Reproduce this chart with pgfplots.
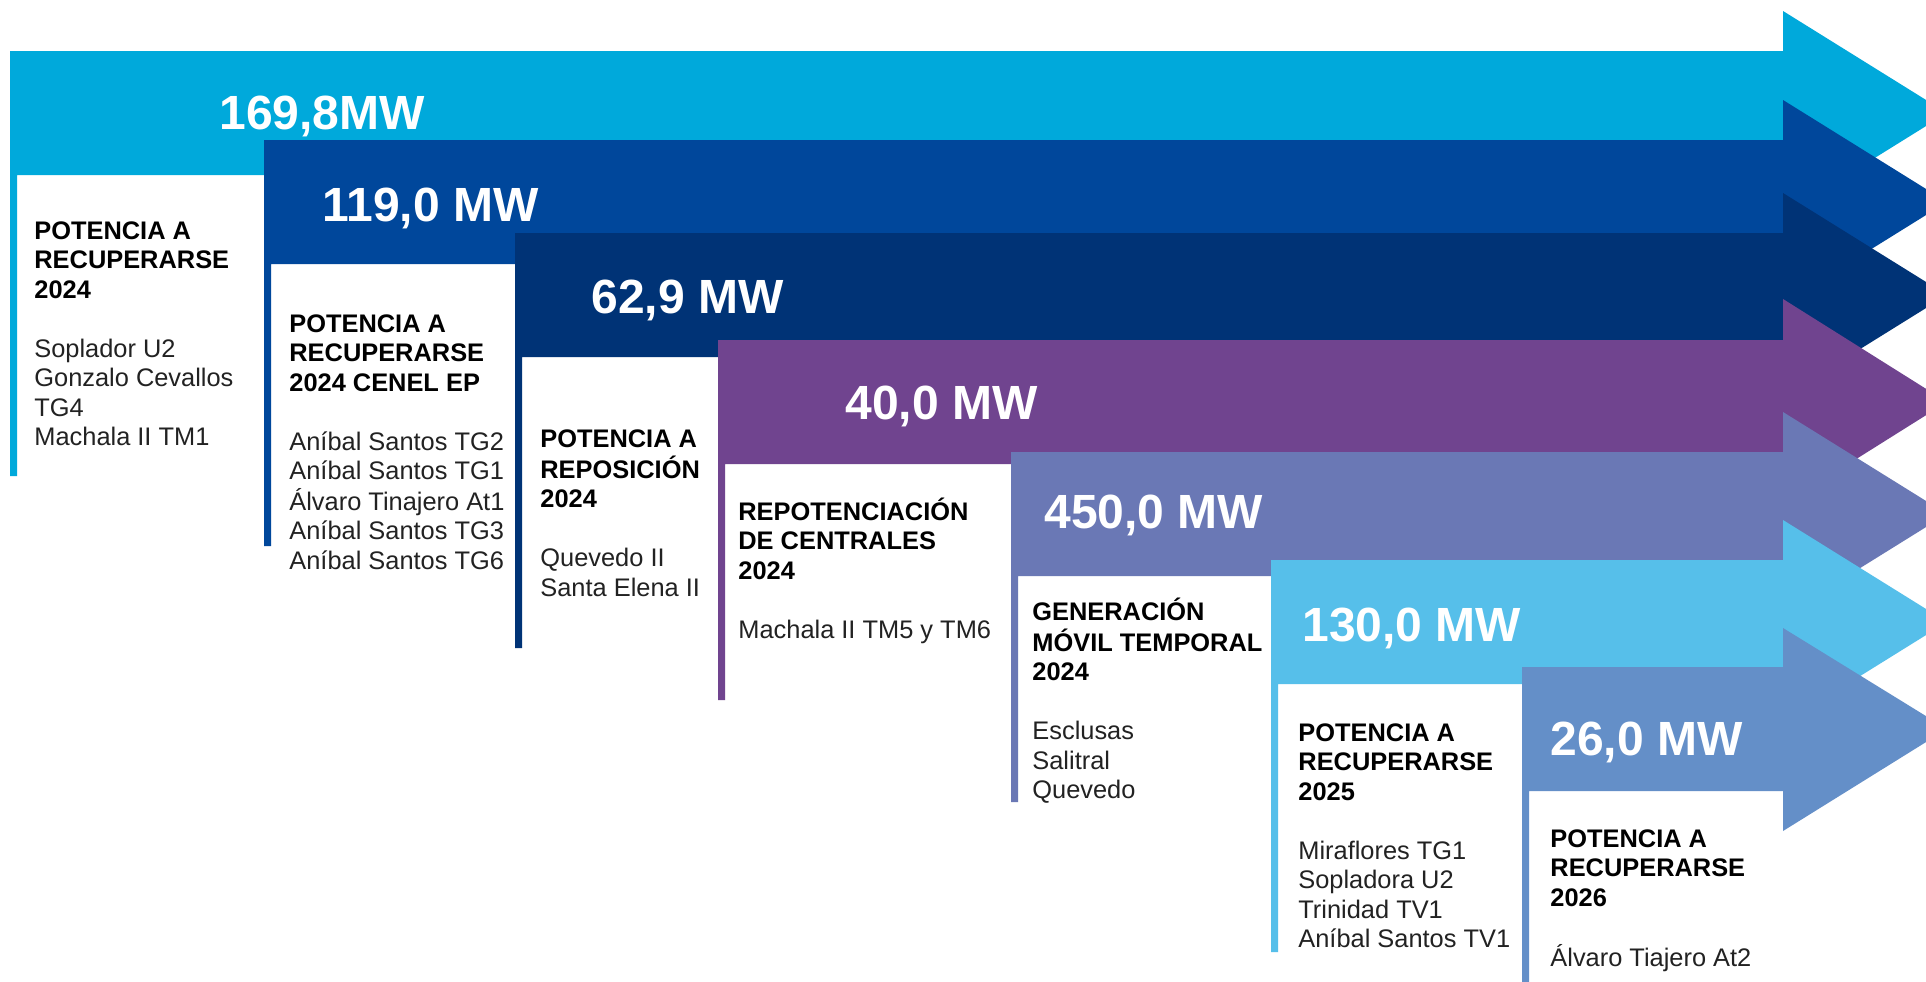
\documentclass[border=0pt]{standalone}
\usepackage{pgfplots}
\pgfplotsset{compat=1.18}
\usepackage{fontspec}
\setmainfont{Liberation Sans}
\definecolor{cA}{HTML}{00A9DB}
\definecolor{cB}{HTML}{00479B}
\definecolor{cC}{HTML}{003376}
\definecolor{cD}{HTML}{70448F}
\definecolor{cE}{HTML}{6A78B5}
\definecolor{cF}{HTML}{56BFEA}
\definecolor{cG}{HTML}{648FC8}
\definecolor{bodygray}{HTML}{222222}
\newcommand{\bl}[1]{\textcolor{bodygray}{#1}}
\tikzset{
  big/.style={anchor=base west,inner sep=0pt,text=white,font=\fontsize{24}{28}\selectfont\bfseries},
  blk/.style={anchor=base west,inner sep=0pt,text=black,font=\fontsize{12.7}{14.75}\selectfont}}
\begin{document}
\begin{tikzpicture}
\begin{axis}[width=963pt,height=490.5pt,scale only axis,
  xmin=0,xmax=1926,ymin=0,ymax=981,y dir=reverse,hide axis,clip=true]
\addplot[fill=white,draw=none] coordinates {(0,0)(1926,0)(1926,981)(0,981)} --cycle;
% arrows: band + head + left strip
\addplot[fill=cA,draw=none] coordinates {(10,51)(1783,51)(1783,11)(1947,113)(1783,215)(1783,175)(17,175)(17,476)(10,476)} --cycle;
\addplot[fill=cB,draw=none] coordinates {(264,140)(1783,140)(1783,100)(1947,202)(1783,304)(1783,264)(271,264)(271,546)(264,546)} --cycle;
\addplot[fill=cC,draw=none] coordinates {(515,233)(1783,233)(1783,193)(1947,295)(1783,397)(1783,357)(522,357)(522,648)(515,648)} --cycle;
\addplot[fill=cD,draw=none] coordinates {(718,340)(1783,340)(1783,299)(1947,402)(1783,505)(1783,464)(725,464)(725,700)(718,700)} --cycle;
\addplot[fill=cE,draw=none] coordinates {(1011,452)(1783,452)(1783,412)(1947,514)(1783,616)(1783,576)(1018,576)(1018,802)(1011,802)} --cycle;
\addplot[fill=cF,draw=none] coordinates {(1271,560)(1783,560)(1783,520)(1947,622)(1783,724)(1783,684)(1278,684)(1278,952)(1271,952)} --cycle;
\addplot[fill=cG,draw=none] coordinates {(1522,667)(1783,667)(1783,628)(1947,729)(1783,831)(1783,791)(1529,791)(1529,990)(1522,990)} --cycle;
% values
\node[big] at (axis cs:219,129) {169,8MW};
\node[big] at (axis cs:322,221) {119,0 MW};
\node[big] at (axis cs:591,313) {62,9 MW};
\node[big] at (axis cs:845,419) {40,0 MW};
\node[big] at (axis cs:1044,528) {450,0 MW};
\node[big] at (axis cs:1302,641) {130,0 MW};
\node[big] at (axis cs:1550,755) {26,0 MW};
% text blocks
\node[blk] at (axis cs:34,239) {\begin{tabular}[t]{@{}l@{}}\textbf{POTENCIA A}\\\textbf{RECUPERARSE}\\\textbf{2024}\\ \\\bl{Soplador U2}\\\bl{Gonzalo Cevallos}\\\bl{TG4}\\\bl{Machala II TM1}\end{tabular}};
\node[blk] at (axis cs:289,332) {\begin{tabular}[t]{@{}l@{}}\textbf{POTENCIA A}\\\textbf{RECUPERARSE}\\\textbf{2024 CENEL EP}\\ \\\bl{Aníbal Santos TG2}\\\bl{Aníbal Santos TG1}\\\bl{Álvaro Tinajero At1}\\\bl{Aníbal Santos TG3}\\\bl{Aníbal Santos TG6}\end{tabular}};
\node[blk] at (axis cs:540,447) {\begin{tabular}[t]{@{}l@{}}\textbf{POTENCIA A}\\\textbf{REPOSICIÓN}\\\textbf{2024}\\ \\\bl{Quevedo II}\\\bl{Santa Elena II}\end{tabular}};
\node[blk] at (axis cs:738,520) {\begin{tabular}[t]{@{}l@{}}\textbf{REPOTENCIACIÓN}\\\textbf{DE CENTRALES}\\\textbf{2024}\\ \\\bl{Machala II TM5 y TM6}\end{tabular}};
\node[blk] at (axis cs:1032,620) {\begin{tabular}[t]{@{}l@{}}\textbf{GENERACIÓN}\\\textbf{MÓVIL TEMPORAL}\\\textbf{2024}\\ \\\bl{Esclusas}\\\bl{Salitral}\\\bl{Quevedo}\end{tabular}};
\node[blk] at (axis cs:1298,741) {\begin{tabular}[t]{@{}l@{}}\textbf{POTENCIA A}\\\textbf{RECUPERARSE}\\\textbf{2025}\\ \\\bl{Miraflores TG1}\\\bl{Sopladora U2}\\\bl{Trinidad TV1}\\\bl{Aníbal Santos TV1}\end{tabular}};
\node[blk] at (axis cs:1550,847) {\begin{tabular}[t]{@{}l@{}}\textbf{POTENCIA A}\\\textbf{RECUPERARSE}\\\textbf{2026}\\ \\\bl{Álvaro Tiajero At2}\end{tabular}};
\end{axis}
\end{tikzpicture}
\end{document}
